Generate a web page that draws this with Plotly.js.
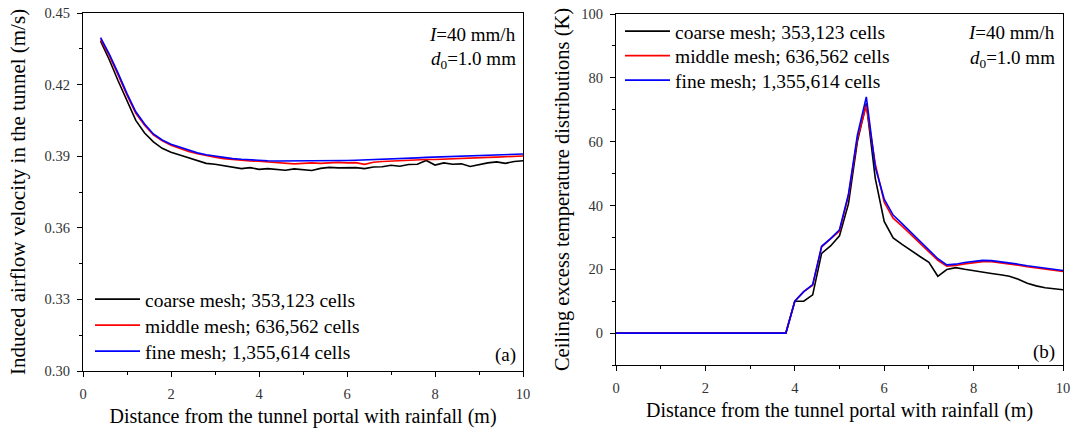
<!DOCTYPE html>
<html>
<head>
<meta charset="utf-8">
<script src="https://cdn.plot.ly/plotly-3.0.1.min.js"></script>
<style>html,body{margin:0;padding:0;background:#fff;}#chart{width:1073px;height:431px;}</style>
</head>
<body>
<div id="chart"></div>
<script>
// ---------- Panel (a): induced airflow velocity ----------
const xVel = [0.4,0.6,0.8,1.0,1.2,1.4,1.6,1.8,2.0,2.2,2.4,2.6,2.8,3.0,3.2,3.4,3.6,3.8,4.0,4.2,4.4,4.6,4.8,5.0,5.2,5.4,5.6,5.8,6.0,6.2,6.4,6.6,6.8,7.0,7.2,7.4,7.6,7.8,8.0,8.2,8.4,8.6,8.8,9.0,9.2,9.4,9.6,9.8,10.0];
const velCoarse = [0.4382,0.4303,0.4215,0.4133,0.4050,0.3997,0.3960,0.3933,0.3917,0.3905,0.3893,0.3881,0.3870,0.3866,0.3860,0.3857,0.3848,0.3852,0.3845,0.3848,0.3844,0.3841,0.3847,0.3843,0.3840,0.3849,0.3853,0.3851,0.3853,0.3852,0.3848,0.3855,0.3856,0.3862,0.3858,0.3865,0.3866,0.3882,0.3863,0.3872,0.3866,0.3868,0.3857,0.3866,0.3872,0.3876,0.3870,0.3878,0.3881];
const velMiddle = [0.4389,0.4320,0.4240,0.4156,0.4080,0.4030,0.3989,0.3964,0.3946,0.3932,0.3920,0.3910,0.3902,0.3896,0.3890,0.3886,0.3883,0.3880,0.3879,0.3876,0.3874,0.3871,0.3868,0.3870,0.3872,0.3870,0.3873,0.3874,0.3872,0.3873,0.3866,0.3875,0.3878,0.3880,0.3881,0.3883,0.3884,0.3886,0.3886,0.3888,0.3889,0.3891,0.3892,0.3894,0.3895,0.3896,0.3898,0.3899,0.3901];
const velFine = [0.4397,0.4327,0.4247,0.4162,0.4086,0.4035,0.3993,0.3968,0.3950,0.3937,0.3924,0.3914,0.3906,0.3900,0.3894,0.3890,0.3887,0.3884,0.3882,0.3881,0.3880,0.3880,0.3879,0.3880,0.3880,0.3881,0.3881,0.3882,0.3882,0.3883,0.3884,0.3885,0.3887,0.3889,0.3890,0.3892,0.3893,0.3895,0.3896,0.3897,0.3899,0.3900,0.3901,0.3903,0.3904,0.3905,0.3906,0.3908,0.3909];

// ---------- Panel (b): ceiling excess temperature ----------
const xTemp = [0,3.8,4.0,4.2,4.4,4.6,4.8,5.0,5.2,5.4,5.6,5.8,6.0,6.2,6.4,6.6,6.8,7.0,7.2,7.4,7.6,7.8,8.0,8.2,8.4,8.6,8.8,9.0,9.2,9.4,9.6,9.8,10.0];
const tempCoarse = [0,0,10,10,12,25,27.3,30.5,40.5,60,72,48.5,35,29.8,27.8,25.8,24,22.2,17.8,19.9,20.5,20,19.5,19.1,18.7,18.3,17.8,16.9,15.6,14.8,14.2,13.9,13.6];
const tempMiddle = [0,0,10,13,15,27,29.5,32,43,61,71.3,53,41,36,33.5,30.8,28,25.3,22.8,21,21.2,21.7,22.1,22.4,22.4,22.1,21.7,21.3,20.8,20.4,20,19.6,19.3];
const tempFine = [0,0,10,13,15.2,27.2,29.6,32.4,43.5,62,74,52,42,37,34.3,31.5,28.6,25.9,23.3,21.4,21.6,22.1,22.5,22.8,22.7,22.4,22,21.6,21.1,20.7,20.3,19.9,19.6];

const seriesNames = ["coarse mesh; 353,123 cells","middle mesh; 636,562 cells","fine mesh; 1,355,614 cells"];
const seriesColors = ["#000000","#ff0000","#0000ff"];
const xTitle = "Distance from the tunnel portal with rainfall (m)";
const yTitleA = "Induced airflow velocity in the tunnel (m/s)";
const yTitleB = "Ceiling excess temperature distributions (K)";

const FONT = "Liberation Serif, Times New Roman, serif";
const velSets = [velCoarse, velMiddle, velFine];
const tempSets = [tempCoarse, tempMiddle, tempFine];

const traces = [];
velSets.forEach((ys, i) => traces.push({
  x: xVel, y: ys, type: 'scatter', mode: 'lines', name: seriesNames[i],
  line: {color: seriesColors[i], width: 1.6}, xaxis: 'x', yaxis: 'y', legend: 'legend'
}));
tempSets.forEach((ys, i) => traces.push({
  x: xTemp, y: ys, type: 'scatter', mode: 'lines', name: seriesNames[i],
  line: {color: seriesColors[i], width: 1.6}, xaxis: 'x2', yaxis: 'y2', legend: 'legend2'
}));

const tickFont = {family: FONT, size: 14.5, color: '#333'};
const xTitleFont = {family: FONT, size: 20, color: '#000'};
const yTitleFontA = {family: FONT, size: 21, color: '#000'};
const yTitleFontB = {family: FONT, size: 20.5, color: '#000'};
const annFont = {family: FONT, size: 19, color: '#000'};
const legFont = {family: FONT, size: 19.5, color: '#000'};
function axisBase(extra) {
  return Object.assign({
    showline: true, linecolor: '#000', linewidth: 1.2, mirror: true,
    ticks: 'outside', ticklen: 5, tickwidth: 1, tickcolor: '#000',
    showgrid: false, zeroline: false, tickfont: tickFont, ticklabelstandoff: 4
  }, extra);
}

const layout = {
  width: 1073, height: 431,
  margin: {l: 0, r: 0, t: 0, b: 0},
  paper_bgcolor: '#fff', plot_bgcolor: '#fff',
  showlegend: true,
  xaxis: axisBase({domain: [83/1073, 523/1073], range: [0, 10], dtick: 2, tick0: 0,
    minor: {ticks: 'outside', ticklen: 3, dtick: 1, tickcolor: '#000'},
    title: {text: xTitle, font: xTitleFont, standoff: 8}, anchor: 'y'}),
  yaxis: axisBase({domain: [1 - 371/431, 1 - 13/431], range: [0.30, 0.45], dtick: 0.03, tick0: 0.30, tickformat: '.2f',
    minor: {ticks: 'outside', ticklen: 3, dtick: 0.015, tickcolor: '#000'},
    title: {text: yTitleA, font: yTitleFontA, standoff: 13}, anchor: 'x'}),
  xaxis2: axisBase({domain: [616/1073, 1063/1073], range: [0, 10], dtick: 2, tick0: 0,
    minor: {ticks: 'outside', ticklen: 3, dtick: 1, tickcolor: '#000'},
    title: {text: xTitle, font: xTitleFont, standoff: 8}, anchor: 'y2'}),
  yaxis2: axisBase({domain: [1 - 365/431, 1 - 14/431], range: [-10, 100], dtick: 20, tick0: 0,
    minor: {ticks: 'outside', ticklen: 3, dtick: 10, tickcolor: '#000'},
    title: {text: yTitleB, font: yTitleFontB, standoff: 6}, anchor: 'x2'}),
  legend: {x: 105/1073, y: 1 - 280/431, xanchor: 'left', yanchor: 'top', bgcolor: 'rgba(0,0,0,0)',
    font: legFont, tracegroupgap: 0},
  legend2: {x: 635/1073, y: 1 - 12/431, xanchor: 'left', yanchor: 'top', bgcolor: 'rgba(0,0,0,0)',
    font: legFont, tracegroupgap: 0},
  annotations: [
    {xref: 'paper', yref: 'paper', x: 518/1073, y: 1 - 34/431, xanchor: 'right', yanchor: 'middle', showarrow: false,
     text: '<i>I</i>=40 mm/h', font: annFont},
    {xref: 'paper', yref: 'paper', x: 518/1073, y: 1 - 60/431, xanchor: 'right', yanchor: 'middle', showarrow: false,
     text: '<i>d</i><sub>0</sub>=1.0 mm', font: annFont},
    {xref: 'paper', yref: 'paper', x: 518/1073, y: 1 - 355/431, xanchor: 'right', yanchor: 'middle', showarrow: false,
     text: '(a)', font: annFont},
    {xref: 'paper', yref: 'paper', x: 1057/1073, y: 1 - 33/431, xanchor: 'right', yanchor: 'middle', showarrow: false,
     text: '<i>I</i>=40 mm/h', font: annFont},
    {xref: 'paper', yref: 'paper', x: 1057/1073, y: 1 - 59/431, xanchor: 'right', yanchor: 'middle', showarrow: false,
     text: '<i>d</i><sub>0</sub>=1.0 mm', font: annFont},
    {xref: 'paper', yref: 'paper', x: 1057/1073, y: 1 - 352/431, xanchor: 'right', yanchor: 'middle', showarrow: false,
     text: '(b)', font: annFont}
  ]
};

// cosmetic: longer legend line samples and tighter row spacing, as in the reference
const rowGap = {legend: 26, legend2: 24.5};
function tweakLegends(gd) {
  ['legend', 'legend2'].forEach(cls => {
    const lg = gd.querySelector('g.' + cls);
    if (!lg) return;
    lg.querySelectorAll('[clip-path]').forEach(el => el.removeAttribute('clip-path'));
    lg.querySelectorAll('.legendlines path').forEach(p => {
      p.setAttribute('d', 'M-10,0h45');
      p.style.strokeWidth = '1.8px';
    });
    const items = lg.querySelectorAll('g.traces');
    if (!items.length) return;
    const m = /translate\(\s*([-\d.]+)[ ,]+([-\d.]+)/.exec(items[0].getAttribute('transform') || '');
    if (!m) return;
    const x0 = parseFloat(m[1]), y0 = parseFloat(m[2]);
    items.forEach((it, i) => it.setAttribute('transform', 'translate(' + x0 + ',' + (y0 + i * rowGap[cls]) + ')'));
  });
}

Plotly.newPlot('chart', traces, layout, {staticPlot: true, displayModeBar: false}).then(gd => {
  tweakLegends(gd);
  gd.on('plotly_afterplot', () => tweakLegends(gd));
});
</script>
</body>
</html>
